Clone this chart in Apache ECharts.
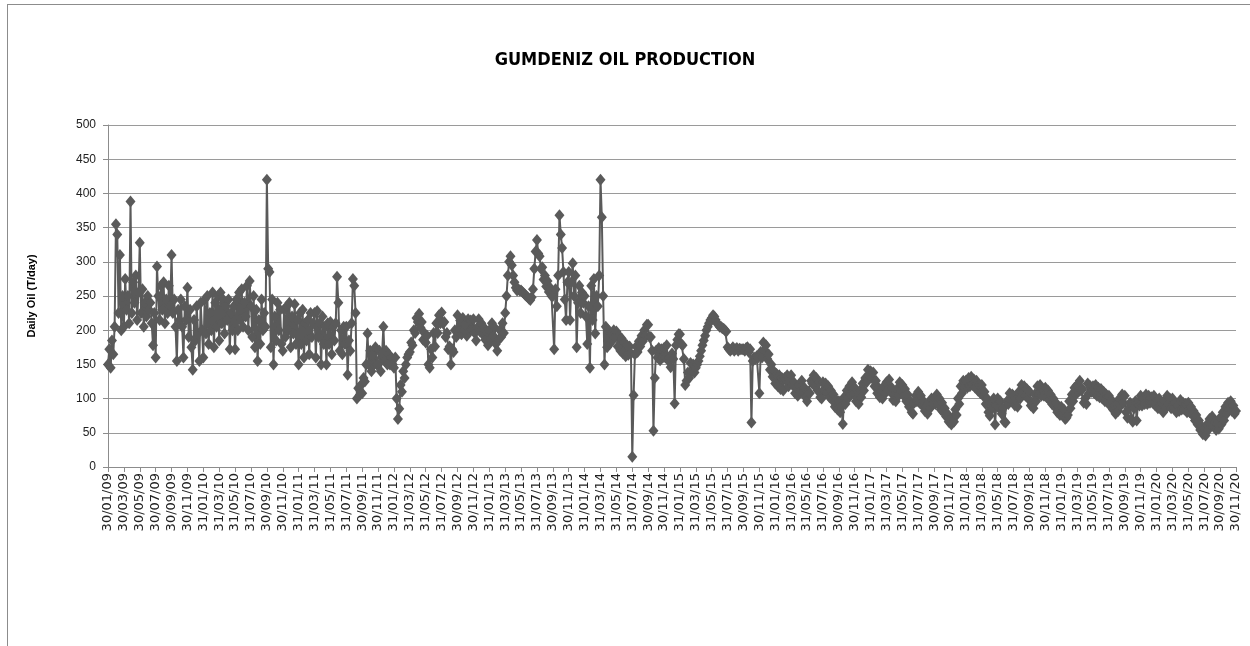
<!DOCTYPE html>
<html lang="en">
<head>
  <meta charset="utf-8">
  <title>GUMDENIZ OIL PRODUCTION</title>
  <style>
    html, body { margin: 0; padding: 0; background: #fff; overflow: hidden; }
    #frame { position: absolute; left: 7px; top: 4px; width: 1400px; height: 800px; border: 1px solid #8c8c8c; }
    #chart1 { position: absolute; left: 0; top: 0; width: 1250px; height: 646px; }
  </style>
</head>
<body>

<script src="https://cdn.jsdelivr.net/npm/echarts/dist/echarts.min.js"></script>

<div id="frame"></div>
<div id="chart1"></div>

<script>
  // tick labels on the x axis (every 2 months)
  var tickLabels = [
    '30/01/09','30/03/09','30/05/09','30/07/09','30/09/09','30/11/09',
    '31/01/10','31/03/10','31/05/10','31/07/10','30/09/10','30/11/10',
    '31/01/11','31/03/11','31/05/11','31/07/11','30/09/11','30/11/11',
    '31/01/12','31/03/12','31/05/12','31/07/12','30/09/12','30/11/12',
    '31/01/13','31/03/13','31/05/13','31/07/13','30/09/13','30/11/13',
    '31/01/14','31/03/14','31/05/14','31/07/14','30/09/14','30/11/14',
    '31/01/15','31/03/15','31/05/15','31/07/15','30/09/15','30/11/15',
    '31/01/16','31/03/16','31/05/16','31/07/16','30/09/16','30/11/16',
    '31/01/17','31/03/17','31/05/17','31/07/17','30/09/17','30/11/17',
    '31/01/18','31/03/18','31/05/18','31/07/18','30/09/18','30/11/18',
    '31/01/19','31/03/19','31/05/19','31/07/19','30/09/19','30/11/19',
    '31/01/20','31/03/20','31/05/20','31/07/20','30/09/20','30/11/20'
  ];

  // readings between two tick labels (about every 5 days)
  var pointsPerTick = 12;

  // daily oil, T/day (one row per 2-month interval)
  var oil = [
    150, 172, 145, 185, 165, 205, 355, 340, 225, 310, 200, 250,
    205, 275, 230, 250, 210, 388, 225, 270, 240, 280, 215, 255,
    328, 225, 260, 205, 240, 220, 250, 230, 240, 210, 178, 225,
    160, 293, 250, 215, 265, 230, 270, 210, 245, 225, 265, 235,
    310, 225, 245, 205, 155, 230, 215, 245, 205, 160, 235, 215,
    262, 190, 230, 175, 142, 215, 185, 235, 195, 155, 240, 200,
    160, 245, 195, 250, 180, 225, 200, 255, 175, 240, 205, 250,
    185, 255, 210, 245, 195, 235, 215, 245, 172, 225, 200, 235,
    172, 245, 200, 255, 215, 260, 205, 240, 220, 265, 200, 272,
    235, 190, 250, 175, 230, 155, 215, 180, 245, 200, 225, 205,
    420, 290, 285, 175, 245, 150, 220, 185, 240, 200, 230, 180,
    170, 230, 190, 235, 200, 240, 175, 220, 195, 238, 180, 215,
    150, 225, 180, 230, 160, 210, 185, 215, 165, 225, 190, 210,
    225, 160, 228, 190, 210, 150, 220, 180, 205, 150, 210, 180,
    212, 165, 205, 185, 210, 278, 240, 170, 200, 165, 205, 180,
    205, 135, 185, 170, 210, 275, 265, 225, 100, 115, 105, 120,
    108, 130, 125, 150, 195, 150, 170, 140, 165, 150, 175, 150,
    150, 170, 140, 165, 205, 155, 170, 150, 165, 150, 160, 150,
    145, 160, 100, 70, 85, 120, 110, 140, 130, 150, 160, 165,
    168, 182, 178, 200, 196, 218, 212, 224, 204, 212, 186, 196,
    182, 192, 150, 145, 172, 160, 196, 176, 210, 196, 222, 210,
    226, 210, 212, 190, 196, 172, 176, 150, 172, 168, 200, 190,
    222, 198, 214, 194, 218, 200, 208, 192, 216, 198, 214, 200,
    216, 196, 185, 204, 216, 198, 210, 194, 204, 186, 198, 178,
    200, 186, 210, 192, 204, 180, 170, 186, 200, 190, 210, 196,
    225, 250, 280, 300, 308, 295, 280, 270, 262, 258, 260, 258,
    258, 256, 254, 252, 250, 248, 246, 244, 248, 260, 290, 315,
    332, 312, 308, 290, 292, 274, 280, 264, 272, 256, 262, 250,
    250, 172, 260, 235, 280, 368, 340, 320, 285, 245, 215, 270,
    285, 215, 270, 298, 250, 280, 175, 240, 265, 225, 255, 240,
    250, 220, 180, 235, 145, 265, 215, 275, 195, 250, 235, 280,
    420, 365, 250, 150, 205, 175, 200, 180, 195, 185, 200, 190,
    198, 176, 192, 170, 188, 166, 182, 162, 178, 164, 176, 166,
    15, 105, 165, 176, 168, 184, 176, 192, 184, 200, 192, 208,
    208, 190, 190, 170, 53, 130, 170, 160, 174, 156, 172, 160,
    174, 160, 178, 156, 160, 146, 166, 158, 93, 178, 186, 194,
    194, 180, 178, 158, 120, 126, 138, 130, 152, 140, 150, 138,
    145, 150, 155, 162, 170, 178, 185, 192, 200, 205, 210, 215,
    218, 222, 220, 215, 210, 208, 205, 205, 203, 202, 200, 198,
    175, 172, 170, 172, 175, 170, 172, 174, 170, 173, 172, 172,
    172, 170, 174, 175, 168, 172, 65, 155, 160, 158, 162, 160,
    108, 168, 160, 182, 170, 178, 158, 165, 142, 150, 132, 140,
    122, 136, 118, 134, 114, 130, 112, 130, 128, 134, 118, 126,
    134, 120, 124, 108, 116, 104, 120, 110, 126, 110, 116, 102,
    96, 110, 108, 126, 122, 134, 118, 130, 112, 124, 102, 100,
    124, 112, 122, 108, 118, 102, 112, 98, 106, 88, 98, 84,
    96, 80, 88, 63, 102, 92, 112, 100, 118, 106, 124, 108,
    116, 96, 102, 92, 112, 102, 122, 112, 130, 124, 142, 134,
    140, 130, 138, 118, 126, 108, 116, 102, 110, 100, 118, 108,
    124, 112, 128, 110, 116, 98, 106, 96, 114, 104, 124, 112,
    120, 104, 114, 96, 106, 88, 96, 80, 78, 94, 104, 96,
    110, 94, 104, 90, 96, 82, 88, 78, 94, 86, 100, 92,
    100, 92, 106, 92, 100, 84, 94, 80, 86, 74, 78, 66,
    70, 62, 72, 66, 84, 76, 100, 92, 118, 108, 126, 116,
    126, 116, 130, 118, 132, 120, 128, 116, 126, 112, 120, 108,
    120, 104, 110, 92, 100, 80, 75, 94, 86, 100, 62, 90,
    100, 86, 96, 78, 86, 66, 65, 96, 92, 108, 98, 106,
    104, 90, 98, 88, 110, 100, 120, 108, 118, 104, 114, 100,
    110, 90, 94, 86, 106, 96, 118, 106, 120, 104, 114, 104,
    116, 102, 112, 98, 106, 92, 100, 88, 94, 80, 88, 76,
    88, 76, 84, 70, 72, 76, 96, 86, 106, 96, 116, 106,
    120, 110, 126, 112, 114, 94, 100, 92, 122, 108, 118, 110,
    118, 108, 120, 104, 116, 102, 114, 100, 110, 96, 106, 94,
    104, 90, 98, 84, 90, 78, 92, 82, 100, 90, 106, 94,
    104, 80, 72, 86, 94, 70, 66, 86, 96, 68, 94, 90,
    104, 90, 100, 92, 106, 92, 104, 94, 102, 94, 104, 90,
    98, 86, 100, 86, 94, 80, 96, 86, 104, 92, 100, 86,
    100, 86, 94, 80, 90, 82, 98, 84, 94, 84, 92, 80,
    94, 80, 88, 76, 82, 68, 76, 62, 68, 54, 60, 48,
    56, 46, 62, 54, 70, 62, 74, 60, 66, 54, 64, 56,
    72, 62, 80, 68, 88, 78, 94, 84, 96, 82, 90, 78,
    82
  ];

  // one category per reading, only the first of each interval carries a date
  var categories = [];
  for (var i = 0; i < tickLabels.length; i++) {
    categories.push(tickLabels[i]);
    if (i < tickLabels.length - 1) {
      for (var k = 1; k < pointsPerTick; k++) categories.push('');
    }
  }

  function onTick(idx) {
    return idx % pointsPerTick === 0;
  }

  var chart1 = echarts.init(document.getElementById('chart1'));

  var option = {
    animation: false,
    backgroundColor: 'transparent',
    title: {
      text: 'GUMDENIZ OIL PRODUCTION',
      left: 'center',
      top: 46,
      textStyle: {
        fontFamily: '"DejaVu Sans Condensed", "DejaVu Sans", sans-serif',
        fontSize: 18,
        fontWeight: 'bold',
        color: '#000'
      }
    },
    grid: {
      left: 108,
      right: 14,
      top: 125,
      bottom: 179
    },
    xAxis: {
      type: 'category',
      data: categories,
      boundaryGap: false,
      axisLine: { lineStyle: { color: '#8c8c8c', width: 1 } },
      axisTick: { show: true, interval: onTick, length: 5, lineStyle: { color: '#8c8c8c' } },
      axisLabel: {
        interval: onTick,
        rotate: 90,
        margin: 6,
        fontFamily: '"DejaVu Sans", sans-serif',
        fontSize: 13,
        color: '#222'
      },
      splitLine: { show: false }
    },
    yAxis: {
      type: 'value',
      min: 0,
      max: 500,
      interval: 50,
      name: 'Daily Oil (T/day)',
      nameLocation: 'middle',
      nameGap: 71,
      nameRotate: 90,
      nameTextStyle: {
        fontFamily: '"Liberation Sans", Arial, sans-serif',
        fontSize: 11,
        fontWeight: 'bold',
        color: '#000'
      },
      axisLine: { show: true, lineStyle: { color: '#8c8c8c' } },
      axisTick: { show: true, length: 5, lineStyle: { color: '#8c8c8c' } },
      axisLabel: {
        margin: 12,
        fontFamily: '"Liberation Sans", Arial, sans-serif',
        fontSize: 12,
        color: '#222'
      },
      splitLine: { lineStyle: { color: '#9a9a9a', width: 1 } }
    },
    series: [
      {
        name: 'Daily Oil',
        type: 'line',
        data: oil,
        showAllSymbol: true,
        symbol: 'diamond',
        symbolSize: [10, 12],
        itemStyle: { color: '#5a5a5a' },
        lineStyle: { color: '#5a5a5a', width: 2 },
        emphasis: { disabled: true }
      }
    ]
  };

  chart1.setOption(option);
</script>

</body>
</html>
